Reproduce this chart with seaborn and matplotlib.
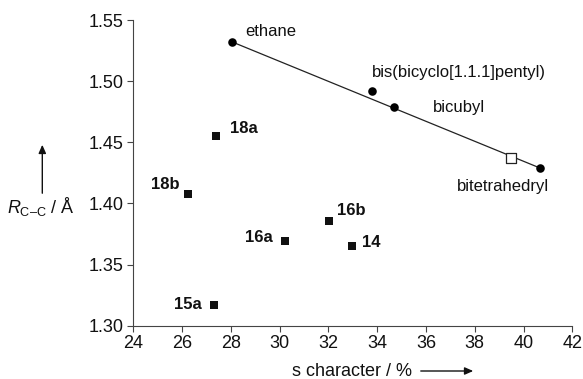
import matplotlib
matplotlib.use("Agg")
import matplotlib.pyplot as plt
import seaborn as sns
import pandas as pd

# Reference compounds (filled circles, on the fitted line)
ref_names = ["ethane", "bis(bicyclo[1.1.1]pentyl)", "bicubyl", "bitetrahedryl"]
ref_s = [28.06, 33.77, 34.70, 40.67]
ref_r = [1.532, 1.492, 1.479, 1.429]

# Open square (interpolated point on the line)
open_s = [39.49]
open_r = [1.437]

# Compounds (filled squares)
cmp_names = ["18a", "18b", "16a", "15a", "16b", "14"]
cmp_s = [27.39, 26.25, 30.22, 27.32, 32.03, 32.95]
cmp_r = [1.455, 1.408, 1.369, 1.317, 1.386, 1.365]

# Fitted line end points
line_s = [28.06, 40.67]
line_r = [1.532, 1.429]

x_ticks = [24, 26, 28, 30, 32, 34, 36, 38, 40, 42]
y_ticks = [1.30, 1.35, 1.40, 1.45, 1.50, 1.55]

sns.set_style("ticks")
plt.rcParams["font.family"] = ["Liberation Sans", "DejaVu Sans"]
plt.rcParams["mathtext.fontset"] = "custom"
plt.rcParams["mathtext.rm"] = "Liberation Sans"
plt.rcParams["mathtext.it"] = "Liberation Sans:italic"

fig = plt.figure(figsize=(5.83, 3.79), dpi=100)
ax = fig.add_axes([0.2287, 0.1406, 0.9817 - 0.2287, 0.9472 - 0.1406])

df_line = pd.DataFrame({"s": line_s, "r": line_r})
sns.lineplot(data=df_line, x="s", y="r", ax=ax, color="#222222", lw=0.9, zorder=1)

df_ref = pd.DataFrame({"s": ref_s, "r": ref_r})
sns.scatterplot(data=df_ref, x="s", y="r", ax=ax, marker="o", s=38,
                color="black", edgecolor="black", linewidth=0, zorder=3)

df_open = pd.DataFrame({"s": open_s, "r": open_r})
sns.scatterplot(data=df_open, x="s", y="r", ax=ax, marker="s", s=55,
                facecolor="white", edgecolor="#222222", linewidth=0.9, zorder=3)

df_cmp = pd.DataFrame({"s": cmp_s, "r": cmp_r})
sns.scatterplot(data=df_cmp, x="s", y="r", ax=ax, marker="s", s=32,
                color="#111111", edgecolor="#111111", linewidth=0, zorder=3)

fs_lab = 12
ref_off = [(9.6, 7.4, "left"), (0.4, 13.5, "left"), (27.6, -0.5, "left"), (6.5, -13.2, "right")]
for name, x, y, (dx, dy, ha) in zip(ref_names, ref_s, ref_r, ref_off):
    ax.annotate(name, (x, y), xytext=(dx, dy), textcoords="offset points",
                ha=ha, va="center", fontsize=fs_lab, color="#111111")

cmp_off = [(10.1, 5.8, "left"), (-6.0, 6.5, "right"), (-8.9, 2.7, "right"),
           (-8.9, 0.5, "right"), (5.8, 7.4, "left"), (7.6, 2.9, "left")]
for name, x, y, (dx, dy, ha) in zip(cmp_names, cmp_s, cmp_r, cmp_off):
    ax.annotate(name, (x, y), xytext=(dx, dy), textcoords="offset points",
                ha=ha, va="center", fontsize=fs_lab, fontweight="bold", color="#111111")

ax.set_xlim(24, 42)
ax.set_ylim(1.30, 1.55)
ax.set_xticks(x_ticks)
ax.set_yticks(y_ticks)
ax.set_xticklabels([str(t) for t in x_ticks])
ax.set_yticklabels([f"{t:.2f}" for t in y_ticks])
ax.tick_params(axis="both", labelsize=13, length=4, width=0.8, color="#444444",
               labelcolor="#111111", direction="out", pad=3)
for side in ["top", "right"]:
    ax.spines[side].set_visible(False)
for side in ["left", "bottom"]:
    ax.spines[side].set_color("#444444")
    ax.spines[side].set_linewidth(0.8)
ax.set_xlabel("")
ax.set_ylabel("")

# y label with upward arrow
fig.text(41 / 583, 1 - 206.7 / 379, r"$R_{\mathrm{C–C}}$ / Å", ha="center", va="center",
         fontsize=13, color="#111111")
fig.add_artist(matplotlib.patches.FancyArrowPatch(
    (42.3 / 583, 1 - 196 / 379), (42.3 / 583, 1 - 142 / 379),
    transform=fig.transFigure, arrowstyle="-|>,head_length=5,head_width=2.2",
    color="#111111", lw=1.0))

# x label with rightward arrow
fig.text(412 / 583, 1 - 371.7 / 379, "s character / %", ha="right", va="center",
         fontsize=13, color="#111111")
fig.add_artist(matplotlib.patches.FancyArrowPatch(
    (418 / 583, 1 - 371 / 379), (476 / 583, 1 - 371 / 379),
    transform=fig.transFigure, arrowstyle="-|>,head_length=5,head_width=2.2",
    color="#111111", lw=1.0))

fig.savefig("out.png", dpi=100)
